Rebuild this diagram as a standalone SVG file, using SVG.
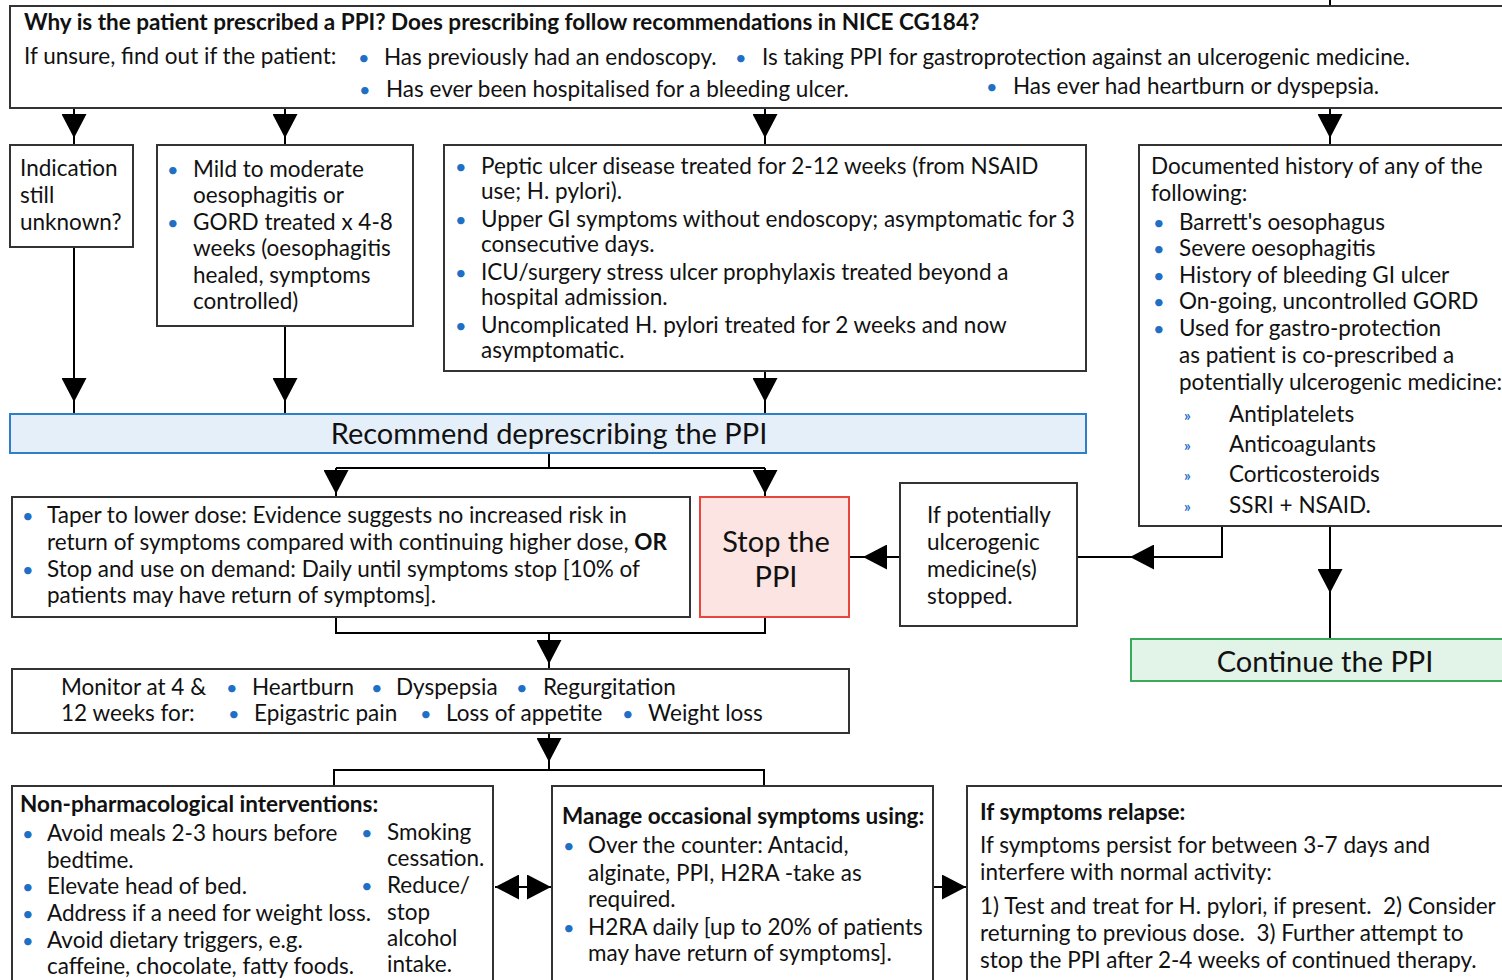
<svg xmlns="http://www.w3.org/2000/svg" width="1502" height="980" viewBox="0 0 1502 980">
<style>
.box{fill:#fff;stroke:#333;stroke-width:2}
.t{font-family:Lato,"Open Sans","Liberation Sans",sans-serif;font-size:22.5px;fill:#111}
.b{font-weight:bold}
.bul{font-family:Lato,"Liberation Sans",sans-serif;font-size:20px;fill:#1f6fc5}
.sub{font-family:Lato,"Liberation Sans",sans-serif;font-size:15px;fill:#1f6fc5;font-weight:bold}
.big{font-family:Lato,"Open Sans","Liberation Sans",sans-serif;font-size:29px;fill:#111}
.c{fill:none;stroke:#000;stroke-width:2}
</style>
<defs>
<marker id="ah" markerUnits="userSpaceOnUse" viewBox="0 0 24 25" markerWidth="24" markerHeight="25" refX="24" refY="12.5" orient="auto">
<path d="M0,0 L24,12.5 L0,25 z" fill="#000"/>
</marker>
</defs>

<g id="connectors">
<line class="c" x1="1330" y1="0" x2="1330" y2="6"/>
<path class="c" d="M74 108 V138" marker-end="url(#ah)"/><path class="c" d="M74 136 V145"/>
<path class="c" d="M285 108 V138" marker-end="url(#ah)"/><path class="c" d="M285 136 V145"/>
<path class="c" d="M765 108 V138" marker-end="url(#ah)"/><path class="c" d="M765 136 V145"/>
<path class="c" d="M1330 108 V138" marker-end="url(#ah)"/><path class="c" d="M1330 136 V145"/>
<path class="c" d="M74 247 V402" marker-end="url(#ah)"/><path class="c" d="M74 400 V414"/>
<path class="c" d="M285 326 V402" marker-end="url(#ah)"/><path class="c" d="M285 400 V414"/>
<path class="c" d="M765 371 V402" marker-end="url(#ah)"/><path class="c" d="M765 400 V414"/>
<path class="c" d="M549 453 V468 M336 468 H765"/>
<path class="c" d="M336 468 V494" marker-end="url(#ah)"/><path class="c" d="M336 492 V497"/>
<path class="c" d="M765 468 V494" marker-end="url(#ah)"/><path class="c" d="M765 492 V497"/>
<path class="c" d="M900 557 H863" marker-end="url(#ah)"/><path class="c" d="M865 557 H849"/>
<path class="c" d="M1222 526 V557 H1130" marker-end="url(#ah)"/><path class="c" d="M1132 557 H1077"/>
<path class="c" d="M1330 526 V593" marker-end="url(#ah)"/><path class="c" d="M1330 591 V639"/>
<path class="c" d="M336 617 V633 H765 V617"/>
<path class="c" d="M549 633 V664" marker-end="url(#ah)"/><path class="c" d="M549 662 V669"/>
<path class="c" d="M549 733 V762" marker-end="url(#ah)"/><path class="c" d="M549 760 V770"/>
<path class="c" d="M334 786 V770 H764 V786"/>
<path class="c" d="M520 887 H495" marker-end="url(#ah)"/>
<path class="c" d="M525 887 H551" marker-end="url(#ah)"/>
<path class="c" d="M519 887 H527"/>
<path class="c" d="M933 887 H966" marker-end="url(#ah)"/>
</g>

<g id="n-question">
<rect class="box" x="10" y="6" width="1500" height="102"/>
<text class="t b" x="24" y="30">Why is the patient prescribed a PPI? Does prescribing follow recommendations in NICE CG184?</text>
<text class="t" x="24" y="64">If unsure, find out if the patient:</text>
<text class="bul" x="358" y="65">•</text><text class="t" x="384" y="65">Has previously had an endoscopy.</text>
<text class="bul" x="735" y="65">•</text><text class="t" x="762" y="65">Is taking PPI for gastroprotection against an ulcerogenic medicine.</text>
<text class="bul" x="359" y="97">•</text><text class="t" x="386" y="97">Has ever been hospitalised for a bleeding ulcer.</text>
<text class="bul" x="986" y="94">•</text><text class="t" x="1013" y="94">Has ever had heartburn or dyspepsia.</text>
</g>

<g id="n-unknown">
<rect class="box" x="10" y="145" width="123" height="102"/>
<text class="t" x="20" y="176">Indication</text>
<text class="t" x="20" y="203">still</text>
<text class="t" x="20" y="230">unknown?</text>
</g>

<g id="n-mild">
<rect class="box" x="157" y="145" width="256" height="181"/>
<text class="bul" x="167" y="177">•</text>
<text class="t" x="193" y="177">Mild to moderate</text>
<text class="t" x="193" y="203">oesophagitis or</text>
<text class="bul" x="167" y="230">•</text>
<text class="t" x="193" y="230">GORD treated x 4-8</text>
<text class="t" x="193" y="256">weeks (oesophagitis</text>
<text class="t" x="193" y="283">healed, symptoms</text>
<text class="t" x="193" y="309">controlled)</text>
</g>

<g id="n-peptic">
<rect class="box" x="444" y="145" width="642" height="226"/>
<text class="bul" x="455" y="174">•</text>
<text class="t" x="481" y="174">Peptic ulcer disease treated for 2-12 weeks (from NSAID</text>
<text class="t" x="481" y="199">use; H. pylori).</text>
<text class="bul" x="455" y="227">•</text>
<text class="t" x="481" y="227">Upper GI symptoms without endoscopy; asymptomatic for 3</text>
<text class="t" x="481" y="252">consecutive days.</text>
<text class="bul" x="455" y="280">•</text>
<text class="t" x="481" y="280">ICU/surgery stress ulcer prophylaxis treated beyond a</text>
<text class="t" x="481" y="305">hospital admission.</text>
<text class="bul" x="455" y="333">•</text>
<text class="t" x="481" y="333">Uncomplicated H. pylori treated for 2 weeks and now</text>
<text class="t" x="481" y="358">asymptomatic.</text>
</g>

<g id="n-documented">
<rect class="box" x="1139" y="145" width="371" height="381"/>
<text class="t" x="1151" y="174">Documented history of any of the</text>
<text class="t" x="1151" y="201">following:</text>
<text class="bul" x="1153" y="230">•</text><text class="t" x="1179" y="230">Barrett's oesophagus</text>
<text class="bul" x="1153" y="256">•</text><text class="t" x="1179" y="256">Severe oesophagitis</text>
<text class="bul" x="1153" y="283">•</text><text class="t" x="1179" y="283">History of bleeding GI ulcer</text>
<text class="bul" x="1153" y="309">•</text><text class="t" x="1179" y="309">On-going, uncontrolled GORD</text>
<text class="bul" x="1153" y="336">•</text><text class="t" x="1179" y="336">Used for gastro-protection</text>
<text class="t" x="1179" y="363">as patient is co-prescribed a</text>
<text class="t" x="1179" y="390">potentially ulcerogenic medicine:</text>
<text class="sub" x="1184" y="421">»</text><text class="t" x="1229" y="422">Antiplatelets</text>
<text class="sub" x="1184" y="451">»</text><text class="t" x="1229" y="452">Anticoagulants</text>
<text class="sub" x="1184" y="481">»</text><text class="t" x="1229" y="482">Corticosteroids</text>
<text class="sub" x="1184" y="512">»</text><text class="t" x="1229" y="513">SSRI + NSAID.</text>
</g>

<g id="n-recommend">
<rect x="10" y="414" width="1076" height="39" fill="#e4eff9" stroke="#2e7fc8" stroke-width="2"/>
<text class="big" x="549" y="444" text-anchor="middle">Recommend deprescribing the PPI</text>
</g>

<g id="n-taper">
<rect class="box" x="12" y="497" width="678" height="120"/>
<text class="bul" x="22" y="523">•</text>
<text class="t" x="47" y="523">Taper to lower dose: Evidence suggests no increased risk in</text>
<text class="t" x="47" y="550">return of symptoms compared with continuing higher dose, <tspan class="b">OR</tspan></text>
<text class="bul" x="22" y="577">•</text>
<text class="t" x="47" y="577">Stop and use on demand: Daily until symptoms stop [10% of</text>
<text class="t" x="47" y="603">patients may have return of symptoms].</text>
</g>

<g id="n-stop">
<rect x="700" y="497" width="149" height="120" fill="#fbe4e2" stroke="#e8453c" stroke-width="2"/>
<text class="big" x="776" y="552" text-anchor="middle">Stop the</text>
<text class="big" x="776" y="587" text-anchor="middle">PPI</text>
</g>

<g id="n-ifstopped">
<rect class="box" x="900" y="483" width="177" height="143"/>
<text class="t" x="927" y="523">If potentially</text>
<text class="t" x="927" y="550">ulcerogenic</text>
<text class="t" x="927" y="577">medicine(s)</text>
<text class="t" x="927" y="604">stopped.</text>
</g>

<g id="n-continue">
<rect x="1131" y="639" width="379" height="42" fill="#e2f3e8" stroke="#3aaa5a" stroke-width="2"/>
<text class="big" x="1325" y="672" text-anchor="middle">Continue the PPI</text>
</g>

<g id="n-monitor">
<rect class="box" x="12" y="669" width="837" height="64"/>
<text class="t" x="61" y="695">Monitor at 4 &amp;</text>
<text class="t" x="61" y="721">12 weeks for:</text>
<text class="bul" x="226" y="695">•</text><text class="t" x="252" y="695">Heartburn</text>
<text class="bul" x="371" y="695">•</text><text class="t" x="396" y="695">Dyspepsia</text>
<text class="bul" x="516" y="695">•</text><text class="t" x="543" y="695">Regurgitation</text>
<text class="bul" x="228" y="721">•</text><text class="t" x="254" y="721">Epigastric pain</text>
<text class="bul" x="420" y="721">•</text><text class="t" x="446" y="721">Loss of appetite</text>
<text class="bul" x="622" y="721">•</text><text class="t" x="648" y="721">Weight loss</text>
</g>

<g id="n-nonpharm">
<rect class="box" x="12" y="786" width="481" height="210"/>
<text class="t b" x="20" y="812">Non-pharmacological interventions:</text>
<text class="bul" x="22" y="841">•</text><text class="t" x="47" y="841">Avoid meals 2-3 hours before</text>
<text class="t" x="47" y="868">bedtime.</text>
<text class="bul" x="22" y="894">•</text><text class="t" x="47" y="894">Elevate head of bed.</text>
<text class="bul" x="22" y="921">•</text><text class="t" x="47" y="921">Address if a need for weight loss.</text>
<text class="bul" x="22" y="948">•</text><text class="t" x="47" y="948">Avoid dietary triggers, e.g.</text>
<text class="t" x="47" y="974">caffeine, chocolate, fatty foods.</text>
<text class="bul" x="361" y="840">•</text><text class="t" x="387" y="840">Smoking</text>
<text class="t" x="387" y="866">cessation.</text>
<text class="bul" x="361" y="893">•</text><text class="t" x="387" y="893">Reduce/</text>
<text class="t" x="387" y="920">stop</text>
<text class="t" x="387" y="946">alcohol</text>
<text class="t" x="387" y="972">intake.</text>
</g>

<g id="n-manage">
<rect class="box" x="552" y="786" width="381" height="210"/>
<text class="t b" x="562" y="824">Manage occasional symptoms using:</text>
<text class="bul" x="563" y="853">•</text><text class="t" x="588" y="853">Over the counter: Antacid,</text>
<text class="t" x="588" y="881">alginate, PPI, H2RA -take as</text>
<text class="t" x="588" y="907">required.</text>
<text class="bul" x="563" y="935">•</text><text class="t" x="588" y="935">H2RA daily [up to 20% of patients</text>
<text class="t" x="588" y="961">may have return of symptoms].</text>
</g>

<g id="n-relapse">
<rect class="box" x="967" y="786" width="543" height="210"/>
<text class="t b" x="980" y="820">If symptoms relapse:</text>
<text class="t" x="980" y="853">If symptoms persist for between 3-7 days and</text>
<text class="t" x="980" y="880">interfere with normal activity:</text>
<text class="t" x="980" y="914" xml:space="preserve">1) Test and treat for H. pylori, if present.  2) Consider</text>
<text class="t" x="980" y="941" xml:space="preserve">returning to previous dose.  3) Further attempt to</text>
<text class="t" x="980" y="968">stop the PPI after 2-4 weeks of continued therapy.</text>
</g>
</svg>
